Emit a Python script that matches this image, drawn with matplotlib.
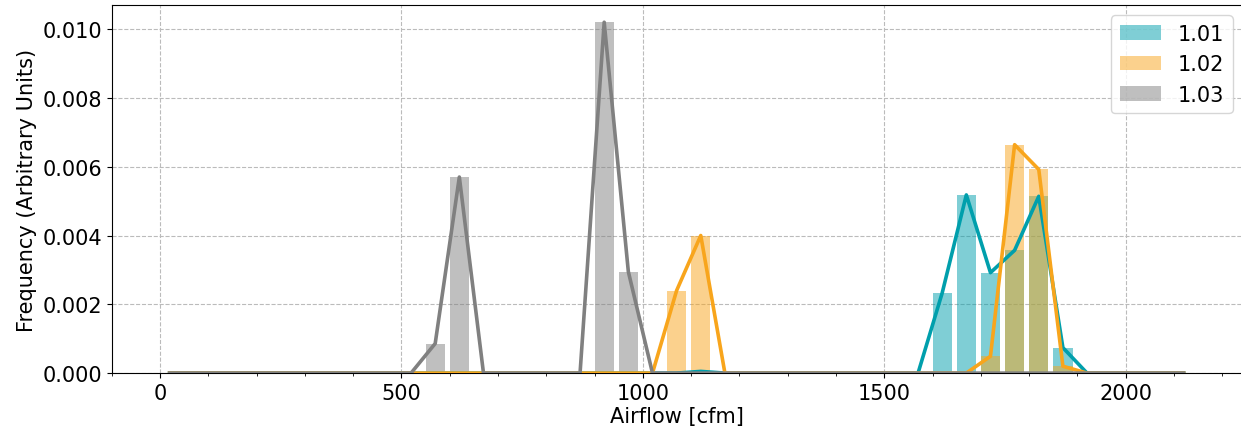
import numpy as np
import matplotlib
matplotlib.use("Agg")
import matplotlib.pyplot as plt

# bin centers of the airflow histogram [cfm]
bins = np.arange(20, 2121, 50)

# non-empty bins per series (density, per cfm)
x_101 = [1120, 1620, 1670, 1720, 1770, 1820, 1870]
y_101 = [0.00005, 0.00233, 0.00518, 0.00292, 0.00357, 0.00514, 0.00074]
x_102 = [1070, 1120, 1720, 1770, 1820, 1870]
y_102 = [0.00240, 0.00400, 0.00049, 0.00664, 0.00592, 0.00020]
x_103 = [570, 620, 920, 970]
y_103 = [0.00086, 0.00570, 0.01020, 0.00295]

labels = ['1.01', '1.02', '1.03']
colors = ['#009fac', '#f8a51c', '#808080']

def fill(xs, ys):
    d = np.zeros(len(bins))
    for x, y in zip(xs, ys):
        d[np.where(bins == x)[0][0]] = y
    return d

series = [fill(x_101, y_101), fill(x_102, y_102), fill(x_103, y_103)]

fig, ax = plt.subplots(figsize=(12.41, 4.31), dpi=100)
for vals, lab, c in zip(series, labels, colors):
    ax.bar(bins, vals, width=40, color=c, alpha=0.5, label=lab, zorder=2)
for vals, c in zip(series, colors):
    ax.plot(bins, vals, color=c, lw=2.6, zorder=3)

ax.set_xlim(-99, 2243)
ax.set_ylim(0, 0.0107)
ax.set_xticks([0, 500, 1000, 1500, 2000])
ax.set_xticks(np.arange(-100, 2201, 100), minor=True)
ax.set_yticks(np.arange(0, 0.0101, 0.002))
ax.yaxis.set_major_formatter(matplotlib.ticker.FormatStrFormatter('%.3f'))
ax.tick_params(labelsize=15)
ax.grid(True, which='major', ls='--', color='#bbbbbb', lw=0.8)
ax.set_axisbelow(True)
ax.set_xlabel('Airflow [cfm]', fontsize=15, labelpad=2)
ax.set_ylabel('Frequency (Arbitrary Units)', fontsize=15)
ax.legend(loc='upper right', fontsize=15)

fig.subplots_adjust(left=0.090, right=1243 / 1241, top=0.986, bottom=0.132)
fig.savefig('out.png')
